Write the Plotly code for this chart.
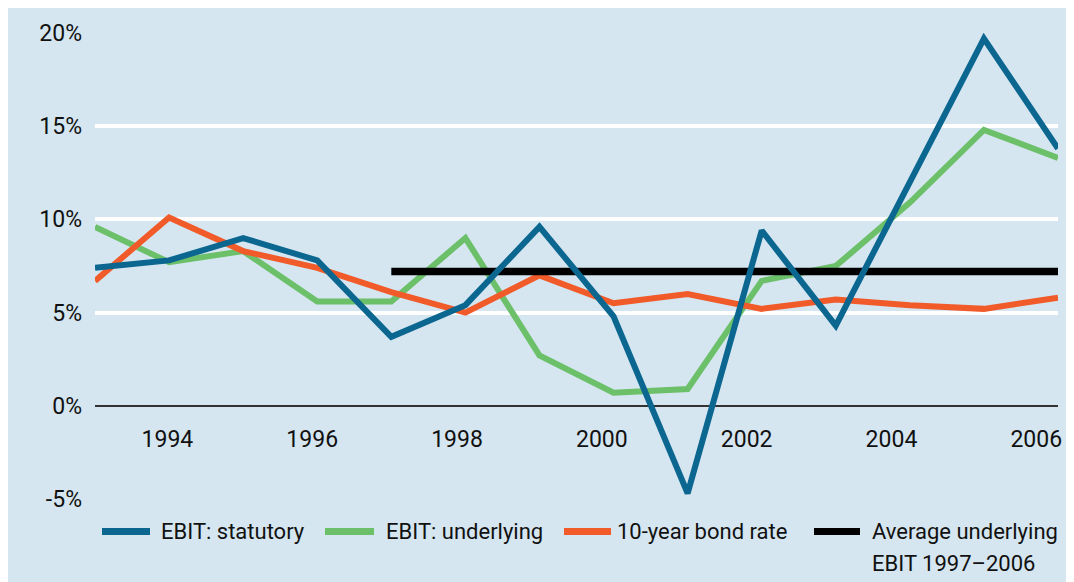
import plotly.graph_objects as go

# The page puts the figure 8px in from the top-left corner (body margin),
# which also gives the thin white border of the original graphic.
PAGE_W, PAGE_H, OFF = 1074, 582, 8
W, H = PAGE_W - OFF, PAGE_H - OFF
# plot area in page pixels: left 95, right 1058, top 27, bottom 499
ML, MR, MT, MB = 95 - OFF, PAGE_W - 1058, 27 - OFF, PAGE_H - 499

years = [1993, 1994, 1995, 1996, 1997, 1998, 1999, 2000, 2001, 2002, 2003, 2004, 2005, 2006]
ebit_statutory = [7.4, 7.8, 9.0, 7.8, 3.7, 5.4, 9.6, 4.8, -4.7, 9.4, 4.3, 12.0, 19.7, 13.8]
ebit_underlying = [9.6, 7.7, 8.3, 5.6, 5.6, 9.0, 2.7, 0.7, 0.9, 6.7, 7.5, 10.9, 14.8, 13.3]
bond_rate = [6.7, 10.1, 8.3, 7.4, 6.1, 5.0, 7.0, 5.5, 6.0, 5.2, 5.7, 5.4, 5.2, 5.8]
avg_years = [1997, 2006]
avg_underlying = [7.2, 7.2]

label_years = [1994, 1996, 1998, 2000, 2002, 2004, 2006]
y_ticks = [-5, 0, 5, 10, 15, 20]

BLUE = "#0b6690"
GREEN = "#6cc06a"
ORANGE = "#f15a29"
BLACK = "#000000"
BG = "#d5e6f0"
TEXT = "#111111"
FONT = "Roboto"


def px_x(px):
    # page pixel -> paper x
    return (px - OFF - ML) / (W - ML - MR)


def px_y(py):
    # page pixel -> paper y
    return (H - MB - (py - OFF)) / (H - MT - MB)


fig = go.Figure()

series = [
    ("EBIT: underlying", years, ebit_underlying, GREEN, 6),
    ("10-year bond rate", years, bond_rate, ORANGE, 6),
    ("Average underlying EBIT 1997–2006", avg_years, avg_underlying, BLACK, 7.5),
    ("EBIT: statutory", years, ebit_statutory, BLUE, 6),
]
for name, xs, ys, color, width in series:
    fig.add_trace(go.Scatter(x=xs, y=ys, name=name, mode="lines",
                             line=dict(color=color, width=width),
                             showlegend=False))

# invisible trace so the label axis (slightly different spacing) gets drawn
fig.add_trace(go.Scatter(x=label_years, y=[None] * len(label_years), xaxis="x2",
                         showlegend=False, hoverinfo="skip"))

# hand-placed legend, as in the original graphic
legend_items = [
    ("EBIT: statutory", BLUE, 102, 150, 159),
    ("EBIT: underlying", GREEN, 325, 374, 384),
    ("10-year bond rate", ORANGE, 564, 611, 615),
    ("Average underlying", BLACK, 814, 860, 870),
]
shapes = []
annotations = []
for text, color, x0, x1, tx in legend_items:
    shapes.append(dict(type="line", xref="paper", yref="paper",
                       x0=px_x(x0), x1=px_x(x1), y0=px_y(532), y1=px_y(532),
                       line=dict(color=color, width=7)))
    annotations.append(dict(text=text, xref="paper", yref="paper",
                            x=px_x(tx), y=px_y(532), xanchor="left", yanchor="middle",
                            showarrow=False, font=dict(size=22, color=TEXT)))
annotations.append(dict(text="EBIT 1997–2006", xref="paper", yref="paper",
                        x=px_x(870), y=px_y(564), xanchor="left", yanchor="middle",
                        showarrow=False, font=dict(size=22, color=TEXT)))

fig.update_layout(
    width=W, height=H,
    margin=dict(l=ML, r=MR, t=MT, b=MB, pad=0),
    paper_bgcolor=BG, plot_bgcolor=BG,
    font=dict(family=FONT, size=23, color=TEXT),
    showlegend=False,
    shapes=shapes, annotations=annotations,
    xaxis=dict(range=[1993, 2006], showgrid=False, zeroline=False,
               showticklabels=False, showline=False, ticks=""),
    xaxis2=dict(range=[1993, 2006.3], overlaying="x", anchor="free", position=px_y(422),
                tickvals=label_years, ticktext=[str(y) for y in label_years],
                showgrid=False, zeroline=False, showline=False, ticks=""),
    yaxis=dict(range=[-5, 20], tickvals=y_ticks, ticktext=[f"{v}%" for v in y_ticks],
               showgrid=True, gridcolor="white", gridwidth=3.5,
               zeroline=True, zerolinecolor="#333333", zerolinewidth=1.5,
               showline=False, ticks="", ticklabelstandoff=12),
)

fig.write_html("out.html")
